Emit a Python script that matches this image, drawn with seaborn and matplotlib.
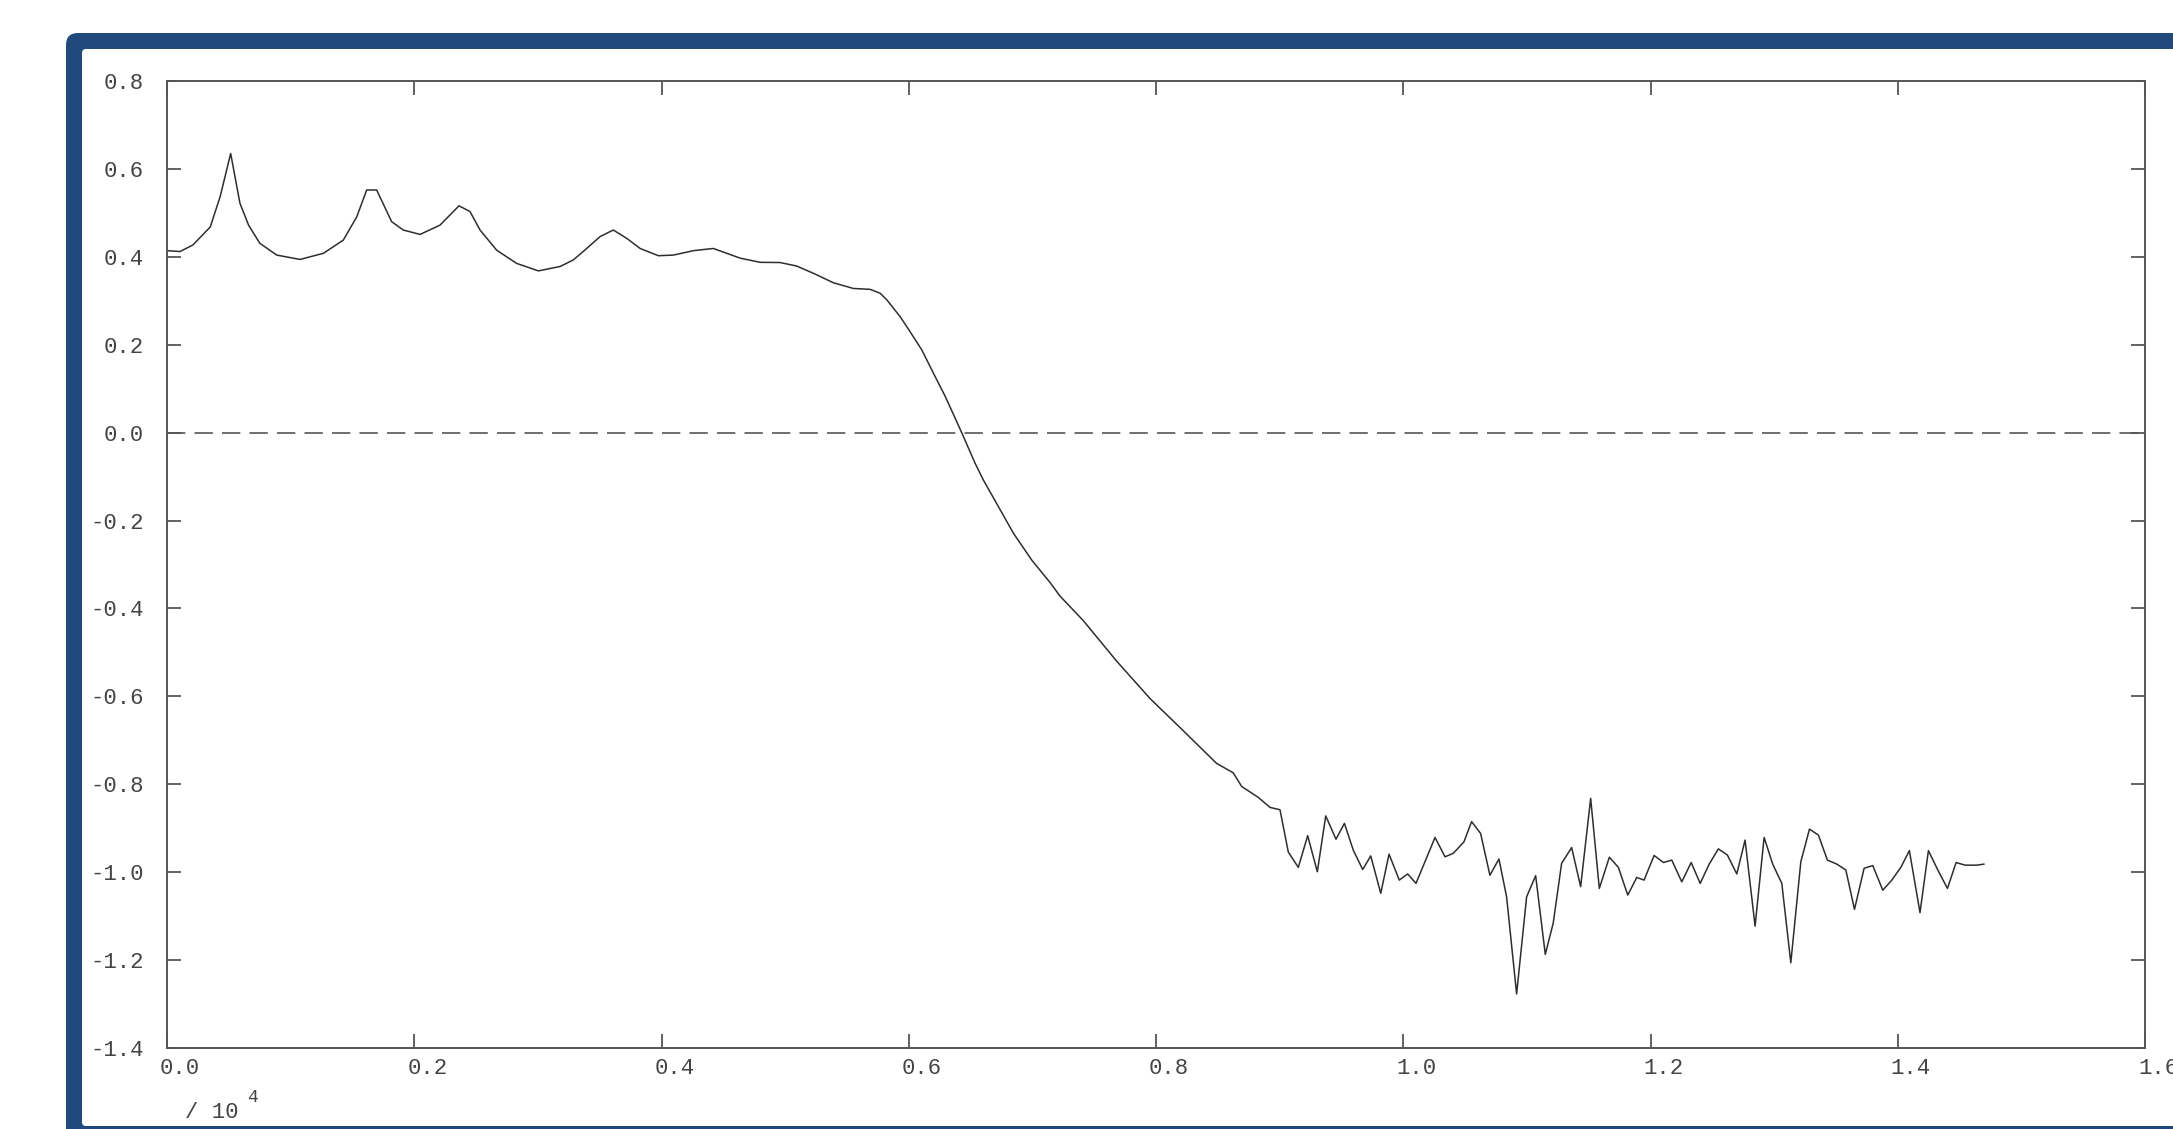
import numpy as np
import pandas as pd
import matplotlib
matplotlib.use("Agg")
import matplotlib.pyplot as plt
import seaborn as sns
from matplotlib.patches import FancyBboxPatch
from matplotlib.transforms import IdentityTransform, ScaledTranslation

# ---------------- data (x in units of 10^4) ----------------
x_vals = [0.000, 0.0105, 0.021, 0.035, 0.043, 0.0515, 0.059, 0.066, 0.075, 0.0887,
          0.1076, 0.1265, 0.1426, 0.1535, 0.1615, 0.1696, 0.1817, 0.1911, 0.2047, 0.2208,
          0.2289, 0.2362, 0.2451, 0.2532, 0.2667, 0.2829, 0.3004, 0.318, 0.3287, 0.3395,
          0.3503, 0.361, 0.3719, 0.3827, 0.3975, 0.4097, 0.4259, 0.4419, 0.4636, 0.4797,
          0.4959, 0.5094, 0.5229, 0.539, 0.5552, 0.5688, 0.5769, 0.5823, 0.593, 0.601,
          0.6106, 0.620, 0.6295, 0.643, 0.6537, 0.6604, 0.6726, 0.6847, 0.6995, 0.7143,
          0.7224, 0.7413, 0.7682, 0.7952, 0.822, 0.849, 0.8625, 0.8693, 0.8828, 0.8922,
          0.9003, 0.907, 0.9151, 0.9227, 0.9305, 0.9373, 0.9456, 0.9524, 0.9596, 0.9672,
          0.9737, 0.9818, 0.9885, 0.9968, 1.0036, 1.0103, 1.0257, 1.0338, 1.0405, 1.0491,
          1.0553, 1.0626, 1.0701, 1.0774, 1.0836, 1.0917, 1.0998, 1.1071, 1.1149, 1.1213,
          1.1281, 1.1362, 1.1435, 1.1516, 1.1586, 1.1667, 1.174, 1.1816, 1.1889, 1.1948,
          1.2029, 1.2105, 1.2172, 1.2253, 1.2329, 1.2402, 1.2474, 1.2549, 1.2622, 1.2698,
          1.2765, 1.2846, 1.2919, 1.2989, 1.3062, 1.3135, 1.3216, 1.3286, 1.3358, 1.3431,
          1.3507, 1.358, 1.365, 1.3728, 1.3798, 1.3879, 1.3952, 1.4025, 1.4094, 1.418,
          1.4248, 1.4324, 1.4402, 1.4472, 1.4545, 1.464, 1.4699]
y_vals = [0.414, 0.412, 0.427, 0.468, 0.537, 0.635, 0.522, 0.472, 0.431, 0.404,
          0.394, 0.408, 0.438, 0.491, 0.552, 0.552, 0.480, 0.461, 0.451, 0.472,
          0.495, 0.516, 0.503, 0.461, 0.415, 0.385, 0.368, 0.378, 0.393, 0.419,
          0.446, 0.461, 0.442, 0.419, 0.4025, 0.404, 0.414, 0.419, 0.397, 0.3875,
          0.387, 0.379, 0.3625, 0.341, 0.328, 0.326, 0.317, 0.302, 0.264, 0.230,
          0.188, 0.135, 0.0825, -0.001, -0.0698, -0.108, -0.1686, -0.229, -0.290, -0.341,
          -0.372, -0.428, -0.520, -0.605, -0.678, -0.7525, -0.774, -0.805, -0.830, -0.8526,
          -0.858, -0.954, -0.989, -0.917, -0.999, -0.872, -0.925, -0.889, -0.950, -0.994,
          -0.963, -1.048, -0.959, -1.018, -1.004, -1.0255, -0.921, -0.965, -0.957, -0.931,
          -0.885, -0.912, -1.007, -0.970, -1.056, -1.277, -1.056, -1.008, -1.187, -1.116,
          -0.980, -0.944, -1.033, -0.832, -1.037, -0.966, -0.989, -1.052, -1.012, -1.018,
          -0.962, -0.978, -0.9725, -1.022, -0.978, -1.0255, -0.982, -0.947, -0.961, -1.004,
          -0.927, -1.1227, -0.921, -0.982, -1.0255, -1.206, -0.9763, -0.902, -0.9156, -0.9725,
          -0.9816, -0.995, -1.0846, -0.991, -0.985, -1.041, -1.018, -0.989, -0.951, -1.092,
          -0.951, -0.995, -1.037, -0.978, -0.984, -0.984, -0.9816]

x_ticks = [0.0, 0.2, 0.4, 0.6, 0.8, 1.0, 1.2, 1.4, 1.6]
x_tick_labels = ["0.0", "0.2", "0.4", "0.6", "0.8", "1.0", "1.2", "1.4", "1.6"]
y_ticks = [0.8, 0.6, 0.4, 0.2, 0.0, -0.2, -0.4, -0.6, -0.8, -1.0, -1.2, -1.4]
y_tick_labels = ["0.8", "0.6", "0.4", "0.2", "0.0", "-0.2", "-0.4", "-0.6",
                 "-0.8", "-1.0", "-1.2", "-1.4"]
x_unit_text = "/ 10"
x_unit_exp = "4"

df = pd.DataFrame({"x": x_vals, "y": y_vals})

# ---------------- style ----------------
sns.set_theme(style="ticks")
plt.rcParams['font.family'] = ['Liberation Mono', 'DejaVu Sans']

W, H = 2173, 1129
fig = plt.figure(figsize=(W / 100, H / 100), dpi=100, facecolor='white')

# blue rounded frame (in pixel coordinates)
outer = FancyBboxPatch((66, -13), 2400, 1109, boxstyle="round,pad=0,rounding_size=12",
                       transform=IdentityTransform(), facecolor='#214a7c',
                       edgecolor='none', zorder=-10)
inner = FancyBboxPatch((82, 3), 2400, 1077, boxstyle="round,pad=0,rounding_size=4",
                       transform=IdentityTransform(), facecolor='white',
                       edgecolor='none', zorder=-9)
fig.add_artist(outer)
fig.add_artist(inner)

ax = fig.add_axes([167 / W, 81 / H, 1978 / W, 967 / H])
ax.set_facecolor('white')

sns.lineplot(data=df, x="x", y="y", ax=ax, color='#2e2e2e', linewidth=1.1,
             estimator=None, sort=False)
ax.axhline(0.0, color='#555555', linewidth=1.2, dashes=(11, 5.5))

ax.set_xlim(0, 1.6)
ax.set_ylim(-1.4, 0.8)
ax.set_xticks(x_ticks)
ax.set_xticklabels(x_tick_labels)
ax.set_yticks(y_ticks)
ax.set_yticklabels(y_tick_labels)
ax.set_xlabel("")
ax.set_ylabel("")
ax.grid(False)

ax.tick_params(direction='in', length=10, width=1.3, top=True, right=True,
               color='#555555', labelsize=16, labelcolor='#444444')
ax.tick_params(axis='y', pad=17)
ax.tick_params(axis='x', pad=7)
for s in ax.spines.values():
    s.set_visible(True)
    s.set_color('#555555')
    s.set_linewidth(1.4)

shift = ScaledTranslation(-7 / 100, 0, fig.dpi_scale_trans)
for lab in ax.get_xticklabels():
    lab.set_horizontalalignment('left')
    lab.set_transform(lab.get_transform() + shift)

fig.text(185 / W, 11 / H, x_unit_text, ha='left', va='baseline', fontsize=16,
         color='#444444')
fig.text(247 / W, 27 / H, x_unit_exp, ha='left', va='baseline', fontsize=13,
         color='#444444')

fig.savefig("out.png", dpi=100, facecolor='white')
